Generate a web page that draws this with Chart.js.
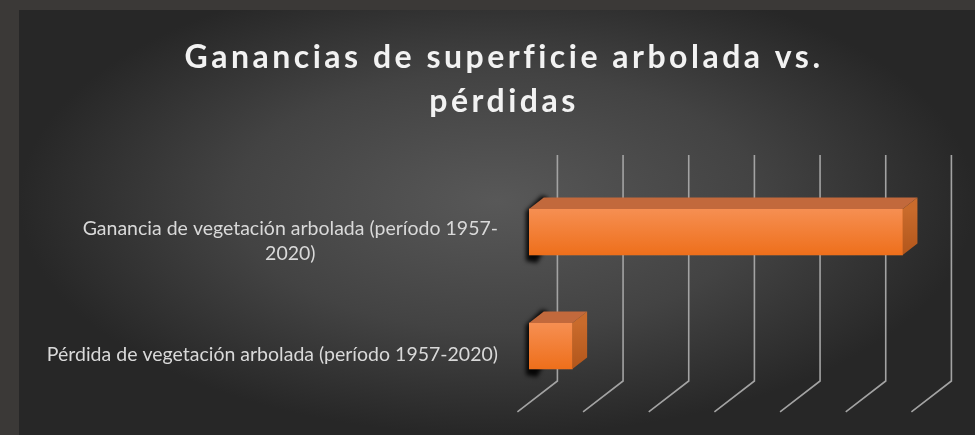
<!DOCTYPE html>
<html>
<head>
<meta charset="utf-8">
<script src="https://cdn.jsdelivr.net/npm/chart.js@4.4.1/dist/chart.umd.min.js"></script>
<style>
  html, body { margin: 0; padding: 0; }
  body { width: 975px; height: 435px; background: #3b3937; overflow: hidden; }
  #marco {
    position: absolute; left: 19px; top: 10px; width: 956px; height: 425px;
    background: radial-gradient(ellipse farthest-side at 50% 45%, #585858 0%, #434343 55%, #272727 100%);
  }
</style>
</head>
<body>
<div id="marco"><canvas id="graficoBarras3d"></canvas></div>
<script>
const categorias = [
  ['Ganancia de vegetación arbolada (período 1957-', '2020)'],
  ['Pérdida de vegetación arbolada (período 1957-2020)']
];
const valores = [5.69, 0.66];
const titulo = ['Ganancias de superficie arbolada vs.', 'pérdidas'];
const marcasX = [0, 1, 2, 3, 4, 5, 6];

// perspectiva: vector del suelo (de delante hacia el fondo)
const suelo = { dx: 40, dy: -31 };
const frenteBarra = 0.29;   // donde cae la cara frontal de las barras
const fondoBarra = 0.37;    // profundidad de cada barra

const efecto3d = {
  id: 'efecto3d',
  beforeDraw(chart) {
    chart.ctx.letterSpacing = '3.5px';
  },
  beforeDatasetsDraw(chart) {
    const ctx = chart.ctx;
    const x = chart.scales.x;
    const area = chart.chartArea;
    ctx.letterSpacing = '0px';

    const atrasX = suelo.dx * (1 - frenteBarra), atrasY = suelo.dy * (1 - frenteBarra);
    const delX = -suelo.dx * frenteBarra, delY = -suelo.dy * frenteBarra;

    ctx.save();
    ctx.strokeStyle = '#a3a3a3';
    ctx.lineWidth = 1.6;
    marcasX.forEach(v => {
      const px = x.getPixelForValue(v);
      ctx.beginPath();
      ctx.moveTo(px + atrasX, area.top + atrasY + 2);
      ctx.lineTo(px + atrasX, area.bottom + atrasY);
      ctx.lineTo(px + delX, area.bottom + delY);
      ctx.stroke();
    });

    // sombra en el extremo izquierdo de las barras
    const px = suelo.dx * fondoBarra, py = suelo.dy * fondoBarra;
    chart.getDatasetMeta(0).data.forEach(b => {
      const { y, base, height } = b.getProps(['y', 'base', 'height'], true);
      const arriba = y - height / 2, abajo = y + height / 2;
      ctx.save();
      ctx.fillStyle = 'rgba(0,0,0,0.9)';
      ctx.filter = 'blur(2px)';
      ctx.beginPath();
      ctx.moveTo(base - 3, abajo + 6);
      ctx.lineTo(base - 3, arriba + 2);
      ctx.lineTo(base + px - 2, arriba + py - 2);
      ctx.lineTo(base + px + 4, arriba + py);
      ctx.lineTo(base + px + 4, abajo + py);
      ctx.lineTo(base + 8, abajo + 8);
      ctx.closePath();
      ctx.fill();
      ctx.restore();
    });
    ctx.restore();
  },
  afterDatasetsDraw(chart) {
    const ctx = chart.ctx;
    const area = chart.chartArea;
    const yEje = chart.scales.y;
    const px = suelo.dx * fondoBarra, py = suelo.dy * fondoBarra;

    ctx.save();
    chart.getDatasetMeta(0).data.forEach(b => {
      const { x: fin, y, base, height } = b.getProps(['x', 'y', 'base', 'height'], true);
      const arriba = y - height / 2, abajo = y + height / 2;

      // cara frontal
      const gFrente = ctx.createLinearGradient(0, arriba, 0, abajo);
      gFrente.addColorStop(0, '#f68f52');
      gFrente.addColorStop(1, '#ee6f1b');
      ctx.fillStyle = gFrente;
      ctx.fillRect(base, arriba, fin - base, height);

      // cara superior
      ctx.fillStyle = '#c2693c';
      ctx.beginPath();
      ctx.moveTo(base, arriba);
      ctx.lineTo(fin, arriba);
      ctx.lineTo(fin + px, arriba + py);
      ctx.lineTo(base + px, arriba + py);
      ctx.closePath();
      ctx.fill();

      // cara lateral
      const gLado = ctx.createLinearGradient(0, arriba, 0, abajo);
      gLado.addColorStop(0, '#c96b2c');
      gLado.addColorStop(1, '#b2561b');
      ctx.fillStyle = gLado;
      ctx.beginPath();
      ctx.moveTo(fin, arriba);
      ctx.lineTo(fin + px, arriba + py);
      ctx.lineTo(fin + px, abajo + py);
      ctx.lineTo(fin, abajo);
      ctx.closePath();
      ctx.fill();
    });

    // etiquetas de categoria
    ctx.letterSpacing = '0px';
    ctx.font = '19.5px Lato';
    ctx.fillStyle = '#d9d9d9';
    ctx.textBaseline = 'middle';
    ctx.textAlign = 'center';
    const derecha = area.left - 31;
    const alto = 25;
    const delY = -suelo.dy * frenteBarra;
    categorias.forEach((lineas, i) => {
      const ancho = Math.max(...lineas.map(t => ctx.measureText(t).width));
      const cx = derecha - ancho / 2;
      const cy = yEje.getPixelForValue(i) + delY;
      lineas.forEach((t, k) => {
        ctx.fillText(t, cx, cy + (k - (lineas.length - 1) / 2) * alto);
      });
    });
    ctx.restore();
  }
};

new Chart(document.getElementById('graficoBarras3d'), {
  type: 'bar',
  data: {
    labels: categorias,
    datasets: [{
      data: valores,
      backgroundColor: '#f37c30',
      borderWidth: 0,
      barThickness: 46
    }]
  },
  options: {
    indexAxis: 'y',
    responsive: true,
    maintainAspectRatio: false,
    animation: false,
    layout: { padding: { left: 66, right: 52, top: 0, bottom: 32 } },
    scales: {
      x: { display: false, min: 0, max: 6 },
      y: {
        ticks: { display: false },
        grid: { display: false },
        border: { display: false },
        afterFit(scale) { scale.width = 444; }
      }
    },
    plugins: {
      legend: { display: false },
      tooltip: { enabled: false },
      title: {
        display: true,
        text: titulo,
        color: '#f2f2f2',
        font: { family: 'Lato', size: 32, weight: 'bold', lineHeight: 1.36 },
        padding: { top: 26, bottom: 52 }
      }
    }
  },
  plugins: [efecto3d]
});
</script>
</body>
</html>
